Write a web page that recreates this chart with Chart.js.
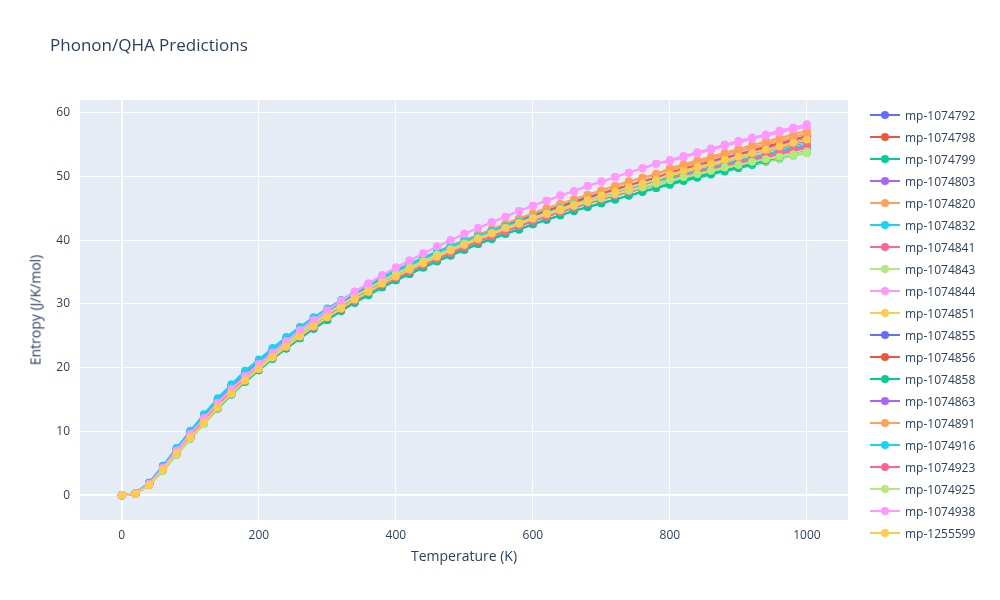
<!DOCTYPE html>
<html><head><meta charset="utf-8">
<script src="https://cdn.jsdelivr.net/npm/chart.js@4/dist/chart.umd.min.js"></script>
<style>
body{margin:0;background:#fff;font-family:"Open Sans",Arial,sans-serif;}
#wrap{position:relative;width:1000px;height:600px;}
#title{position:absolute;left:50px;top:33px;font-size:17px;color:#2a3f5f;}
#xt{position:absolute;left:464px;top:546px;width:0;white-space:nowrap;font-size:14px;color:#2a3f5f;}
#xt span{display:inline-block;transform:translateX(-50%);}
#yt{position:absolute;left:35px;top:310px;white-space:nowrap;font-size:14px;color:#2a3f5f;transform:translate(-50%,-50%) rotate(-90deg);}
#legend{position:absolute;left:870px;top:104px;font-size:12px;color:#2a3f5f;}
.li{height:22px;display:flex;align-items:center;}
.sw{position:relative;width:30px;height:10px;margin-right:5px;}
.sw .ln{position:absolute;left:0;top:4px;width:30px;height:2px;}
.sw .dt{position:absolute;left:11px;top:1px;width:8px;height:8px;border-radius:50%;}
</style></head><body>
<div id="wrap"><canvas id="c" width="1000" height="600"></canvas>
<div id="title">Phonon/QHA Predictions</div>
<div id="xt"><span>Temperature (K)</span></div><div id="yt">Entropy (J/K/mol)</div>
<div id="legend"></div></div>
<script>
const temperatures=[0,20,40,60,80,100,120,140,160,180,200,220,240,260,280,300,320,340,360,380,400,420,440,460,480,500,520,540,560,580,600,620,640,660,680,700,720,740,760,780,800,820,840,860,880,900,920,940,960,980,1000];
const names=["mp-1074792","mp-1074798","mp-1074799","mp-1074803","mp-1074820","mp-1074832","mp-1074841","mp-1074843","mp-1074844","mp-1074851","mp-1074855","mp-1074856","mp-1074858","mp-1074863","mp-1074891","mp-1074916","mp-1074923","mp-1074925","mp-1074938","mp-1255599"];
const colors=["#636efa","#EF553B","#00cc96","#ab63fa","#FFA15A","#19d3f3","#FF6692","#B6E880","#FF97FF","#FECB52"];
const s1074792=[0.0,0.3,1.9,4.5,7.2,9.9,12.5,14.9,17.1,19.1,20.9,22.7,24.4,26.0,27.5,28.9,30.3,31.6,32.8,34.0,35.1,36.1,37.1,38.1,39.0,39.9,40.8,41.6,42.4,43.2,43.9,44.6,45.3,46.0,46.7,47.3,47.9,48.5,49.1,49.7,50.3,50.8,51.4,51.9,52.4,52.9,53.4,53.9,54.4,54.9,55.4];
const s1074798=[0.0,0.2,1.7,4.1,6.7,9.2,11.6,14.0,16.2,18.2,20.0,21.8,23.5,25.1,26.7,28.2,29.6,30.9,32.2,33.4,34.6,35.6,36.7,37.7,38.6,39.5,40.4,41.3,42.1,42.9,43.7,44.5,45.2,45.9,46.6,47.3,48.0,48.6,49.2,49.8,50.4,51.0,51.6,52.1,52.7,53.2,53.8,54.3,54.9,55.4,55.9];
const s1074799=[0.0,0.2,1.6,3.9,6.4,8.9,11.3,13.6,15.8,17.8,19.6,21.4,23.0,24.6,26.1,27.5,28.9,30.2,31.4,32.6,33.7,34.7,35.7,36.7,37.6,38.5,39.4,40.2,41.0,41.7,42.5,43.2,43.9,44.6,45.2,45.8,46.4,47.0,47.6,48.2,48.7,49.3,49.8,50.3,50.8,51.3,51.8,52.3,52.8,53.3,53.8];
const s1074803=[0.0,0.2,1.7,4.0,6.6,9.1,11.5,13.9,16.1,18.1,19.9,21.7,23.4,25.0,26.6,28.1,29.5,30.8,32.1,33.3,34.4,35.5,36.5,37.5,38.5,39.4,40.3,41.2,42.0,42.8,43.6,44.3,45.0,45.7,46.4,47.1,47.7,48.4,49.0,49.6,50.2,50.8,51.3,51.9,52.4,53.0,53.5,54.0,54.6,55.1,55.6];
const s1074820=[0.0,0.2,1.7,4.1,6.7,9.3,11.7,14.1,16.3,18.3,20.2,22.0,23.7,25.4,26.9,28.4,29.8,31.2,32.5,33.7,34.9,36.0,37.0,38.0,39.0,39.9,40.8,41.7,42.6,43.4,44.2,45.0,45.7,46.4,47.1,47.8,48.5,49.2,49.8,50.4,51.3,51.9,52.5,53.1,53.7,54.3,54.9,55.5,56.0,56.6,57.2];
const s1074832=[0.0,0.3,2.0,4.6,7.4,10.1,12.7,15.2,17.4,19.5,21.3,23.1,24.8,26.4,27.9,29.3,30.6,31.9,33.1,34.3,35.3,36.3,37.3,38.2,39.1,40.0,40.8,41.6,42.4,43.1,43.8,44.5,45.2,45.9,46.5,47.1,47.7,48.3,48.9,49.5,50.0,50.5,51.0,51.5,52.0,52.5,53.0,53.5,54.0,54.5,55.0];
const s1074841=[0.0,0.2,1.7,4.1,6.6,9.2,11.6,13.9,16.1,18.1,19.9,21.7,23.3,24.9,26.4,27.9,29.2,30.5,31.8,33.0,34.1,35.1,36.1,37.1,38.0,38.9,39.8,40.6,41.4,42.2,43.0,43.7,44.4,45.1,45.8,46.4,47.0,47.6,48.2,48.8,49.4,49.9,50.5,51.0,51.5,52.0,52.5,53.0,53.5,54.0,54.5];
const s1074843=[0.0,0.2,1.5,3.8,6.3,8.8,11.2,13.6,15.8,17.9,19.9,21.7,23.5,25.1,26.7,28.2,29.5,30.8,32.1,33.3,34.4,35.4,36.4,37.4,38.3,39.2,40.0,40.8,41.6,42.3,43.1,43.8,44.4,45.1,45.7,46.3,46.9,47.5,48.0,48.6,49.1,49.6,50.1,50.6,51.1,51.5,52.0,52.4,52.8,53.2,53.6];
const s1074844=[0.0,0.3,1.8,4.3,7.0,9.6,12.1,14.5,16.7,18.7,20.6,22.4,24.2,25.9,27.5,29.0,30.5,31.9,33.2,34.5,35.7,36.8,37.9,39.0,40.0,41.0,41.9,42.8,43.7,44.6,45.4,46.2,47.0,47.7,48.5,49.2,49.9,50.6,51.3,52.0,52.4,53.0,53.6,54.2,54.8,55.3,55.9,56.4,56.9,57.4,57.8];
const s1074851=[0.0,0.2,1.6,4.0,6.5,9.0,11.4,13.8,16.0,18.0,19.8,21.6,23.3,24.9,26.5,27.9,29.3,30.7,31.9,33.2,34.3,35.4,36.4,37.4,38.4,39.3,40.2,41.1,41.9,42.7,43.5,44.2,44.9,45.6,46.3,47.0,47.6,48.3,48.9,49.5,50.1,50.7,51.2,51.8,52.3,52.9,53.4,53.9,54.5,55.0,55.5];
const s1074855=[0.0,0.3,1.9,4.5,7.2,9.9,12.5,14.9,17.1,19.1,20.9,22.7,24.4,26.0,27.5,28.9,30.3,31.6,32.8,34.0,35.1,36.1,37.1,38.1,39.0,39.9,40.8,41.6,42.4,43.2,43.9,44.6,45.3,46.0,46.7,47.3,47.9,48.5,49.1,49.7,50.5,51.1,51.7,52.2,52.7,53.2,53.7,54.2,54.7,55.2,55.7];
const s1074856=[0.0,0.2,1.7,4.1,6.7,9.2,11.6,14.0,16.2,18.2,20.0,21.8,23.5,25.1,26.7,28.2,29.6,30.9,32.2,33.4,34.6,35.6,36.7,37.7,38.6,39.5,40.4,41.3,42.1,42.9,43.7,44.5,45.2,45.9,46.6,47.3,48.0,48.6,49.2,49.8,50.6,51.2,51.8,52.4,53.0,53.5,54.1,54.7,55.2,55.8,56.3];
const s1074858=[0.0,0.2,1.6,3.9,6.4,8.9,11.3,13.6,15.8,17.8,19.6,21.4,23.0,24.6,26.1,27.5,28.9,30.2,31.4,32.6,33.7,34.7,35.7,36.7,37.6,38.5,39.4,40.2,41.0,41.7,42.5,43.2,43.9,44.6,45.2,45.8,46.4,47.0,47.6,48.2,48.9,49.5,50.0,50.5,51.0,51.5,52.0,52.5,53.0,53.5,54.0];
const s1074863=[0.0,0.2,1.7,4.0,6.6,9.1,11.5,13.9,16.1,18.1,19.9,21.7,23.4,25.0,26.6,28.1,29.5,30.8,32.1,33.3,34.4,35.5,36.5,37.5,38.5,39.4,40.3,41.2,42.0,42.8,43.6,44.3,45.0,45.7,46.4,47.1,47.7,48.4,49.0,49.6,50.4,51.0,51.6,52.2,52.7,53.3,53.8,54.4,54.9,55.4,55.9];
const s1074891=[0.0,0.2,1.7,4.1,6.7,9.3,11.7,14.1,16.3,18.3,20.2,22.0,23.7,25.4,26.9,28.4,29.8,31.2,32.5,33.7,34.9,36.0,37.0,38.0,39.0,39.9,40.8,41.7,42.6,43.4,44.2,45.0,45.7,46.4,47.1,47.8,48.5,49.2,49.8,50.4,51.0,51.6,52.2,52.8,53.4,54.0,54.5,55.1,55.6,56.2,56.7];
const s1074916=[0.0,0.3,1.9,4.5,7.3,10.0,12.6,15.0,17.2,19.3,21.1,22.9,24.6,26.2,27.7,29.1,30.4,31.7,32.9,34.1,35.1,36.1,37.1,38.0,38.9,39.8,40.6,41.4,42.2,42.9,43.6,44.3,45.0,45.7,46.3,46.9,47.5,48.1,48.7,49.3,49.8,50.3,50.8,51.3,51.8,52.3,52.8,53.3,53.8,54.3,54.8];
const s1074923=[0.0,0.2,1.7,4.1,6.6,9.2,11.6,13.9,16.1,18.1,19.9,21.7,23.3,24.9,26.4,27.9,29.2,30.5,31.8,33.0,34.1,35.1,36.1,37.1,38.0,38.9,39.8,40.6,41.4,42.2,43.0,43.7,44.4,45.1,45.8,46.4,47.0,47.6,48.2,48.8,49.6,50.1,50.7,51.2,51.7,52.2,52.7,53.2,53.7,54.2,54.7];
const s1074925=[0.0,0.2,1.6,3.9,6.4,8.9,11.3,13.7,15.9,18.0,20.0,21.9,23.7,25.3,26.9,28.4,29.8,31.1,32.4,33.6,34.7,35.7,36.7,37.7,38.6,39.5,40.3,41.1,41.9,42.6,43.4,44.1,44.7,45.4,46.0,46.6,47.2,47.8,48.3,48.9,49.4,49.9,50.4,50.9,51.4,51.8,52.3,52.7,53.1,53.5,53.9];
const s1074938=[0.0,0.3,1.8,4.3,7.0,9.6,12.1,14.5,16.7,18.7,20.6,22.4,24.2,25.9,27.5,29.0,30.5,31.9,33.2,34.5,35.7,36.8,37.9,39.0,40.0,41.0,41.9,42.8,43.7,44.6,45.4,46.2,47.0,47.7,48.5,49.2,49.9,50.6,51.3,52.0,52.6,53.2,53.8,54.4,55.0,55.6,56.1,56.6,57.2,57.7,58.2];
const s1255599=[0.0,0.2,1.6,4.0,6.5,9.0,11.4,13.8,16.0,18.0,19.8,21.6,23.3,24.9,26.5,27.9,29.3,30.7,31.9,33.2,34.3,35.4,36.4,37.4,38.4,39.3,40.2,41.1,41.9,42.7,43.5,44.2,44.9,45.6,46.3,47.0,47.6,48.3,48.9,49.5,50.3,50.9,51.5,52.0,52.6,53.1,53.7,54.2,54.7,55.3,55.8];
const seriesValues=[s1074792,s1074798,s1074799,s1074803,s1074820,s1074832,s1074841,s1074843,s1074844,s1074851,s1074855,s1074856,s1074858,s1074863,s1074891,s1074916,s1074923,s1074925,s1074938,s1255599];
const xTicks=[0,200,400,600,800,1000];
const yTicks=[0,10,20,30,40,50,60];

const datasets=names.map((n,i)=>({label:n,data:temperatures.map((t,j)=>({x:t,y:seriesValues[i][j]})),
  borderColor:colors[i%10],backgroundColor:colors[i%10],borderWidth:2,pointRadius:3,pointHoverRadius:3,order:names.length-i}));

const bg={id:'bg',beforeDraw(c){const a=c.chartArea,x=c.ctx;x.save();x.fillStyle='#E5ECF6';x.fillRect(a.left,a.top,a.right-a.left,a.bottom-a.top);x.restore();}};
const tickFont={family:'"Open Sans",Arial',size:12};
new Chart(document.getElementById('c'),{type:'line',data:{datasets},plugins:[bg],
options:{responsive:false,animation:false,events:[],
 layout:{padding:{left:0,right:152,top:100,bottom:0}},
 plugins:{legend:{display:false},tooltip:{enabled:false}},
 scales:{
  x:{type:'linear',min:-61,max:1060,
   afterBuildTicks:s=>{s.ticks=xTicks.map(v=>({value:v}));},
   afterFit:s=>{s.height=80;},
   grid:{color:'#fff',lineWidth:c=>c.tick&&c.tick.value===0?2:1,drawTicks:false},border:{display:false},
   ticks:{color:'#2a3f5f',font:tickFont,padding:8,maxRotation:0,callback:v=>String(v)}},
  y:{type:'linear',min:-3.9,max:62,
   afterBuildTicks:s=>{s.ticks=yTicks.map(v=>({value:v}));},
   afterFit:s=>{s.width=80;},
   grid:{color:'#fff',lineWidth:c=>c.tick&&c.tick.value===0?2:1,drawTicks:false},border:{display:false},
   ticks:{color:'#2a3f5f',font:tickFont,padding:10,callback:v=>String(v)}}
 }}});

const lg=document.getElementById('legend');
names.forEach((n,i)=>{const d=document.createElement('div');d.className='li';
 d.innerHTML='<div class="sw"><div class="ln" style="background:'+colors[i%10]+'"></div><div class="dt" style="background:'+colors[i%10]+'"></div></div><span>'+n+'</span>';lg.appendChild(d);});
</script></body></html>
